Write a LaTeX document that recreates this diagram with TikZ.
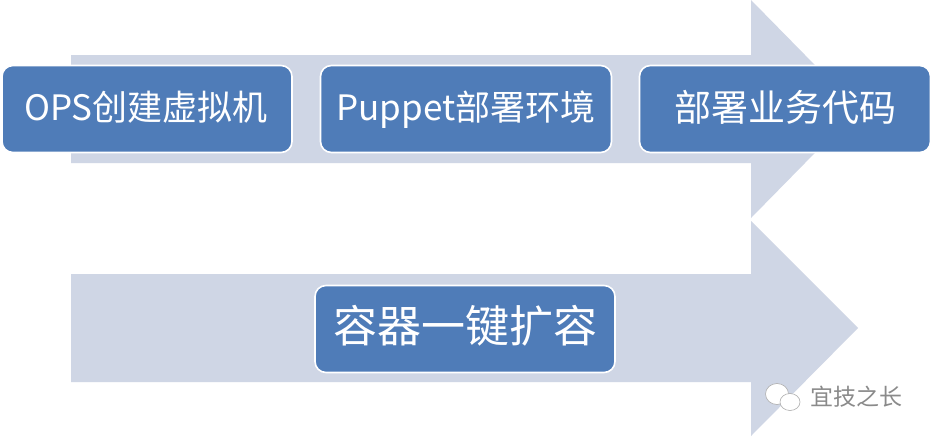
\documentclass[tikz,border=0pt]{standalone}
\usepackage{fontspec}
\setmainfont{Noto Sans CJK SC}
\usetikzlibrary{shapes.geometric}
\definecolor{arrowfill}{HTML}{CFD6E5}
\definecolor{boxfill}{HTML}{4F7CB8}
\definecolor{markgrey}{HTML}{8A8A8A}
\tikzset{
  bigarrow/.style={fill=arrowfill,draw=none},
  stepbox/.style={fill=boxfill,draw=white,line width=1.6pt,rounded corners=11pt,minimum height=87pt,inner sep=0pt},
  steptext/.style={text=white,inner sep=0pt,anchor=base,font=\fontsize{#1}{#1}\selectfont},
  bubble/.style={fill=white,draw=markgrey!70,line width=0.6pt,ellipse,inner sep=0pt},
}
\begin{document}
\begin{tikzpicture}[x=1pt,y=-1pt]
\useasboundingbox (0,0) rectangle (932,439);
\fill[white] (0,0) rectangle (932,439);
\fill[bigarrow] (71,55) -- (751,55) -- (751,0) -- (858,109) -- (751,218) -- (751,163) -- (71,163) -- cycle;
\fill[bigarrow] (71,274) -- (751,274) -- (751,221) -- (858,328) -- (751,436) -- (751,382) -- (71,382) -- cycle;
\node[stepbox,minimum width=290pt] (ops) at (147,109) {};
\node[stepbox,minimum width=291pt] (puppet) at (466,109) {};
\node[stepbox,minimum width=291pt] (code) at (785,109) {};
\node[stepbox,minimum width=300pt] (scale) at (465,329) {};
\node[steptext=35] (opstext) at (146,120) {OPS创建虚拟机};
\node[steptext=35] (puppettext) at (466,120) {Puppet部署环境};
\node[steptext=37] (codetext) at (785,121) {部署业务代码};
\node[steptext=44] (scaletext) at (465,342) {容器一键扩容};
\node[bubble,minimum width=23pt,minimum height=21pt] (bubbleA) at (777,394) {};
\node[bubble,minimum width=20pt,minimum height=17pt] (bubbleB) at (790,402) {};
\node[text=markgrey,font=\fontsize{23}{23}\selectfont,inner sep=0pt] (mark) at (856,397) {宜技之长};
\end{tikzpicture}
\end{document}
